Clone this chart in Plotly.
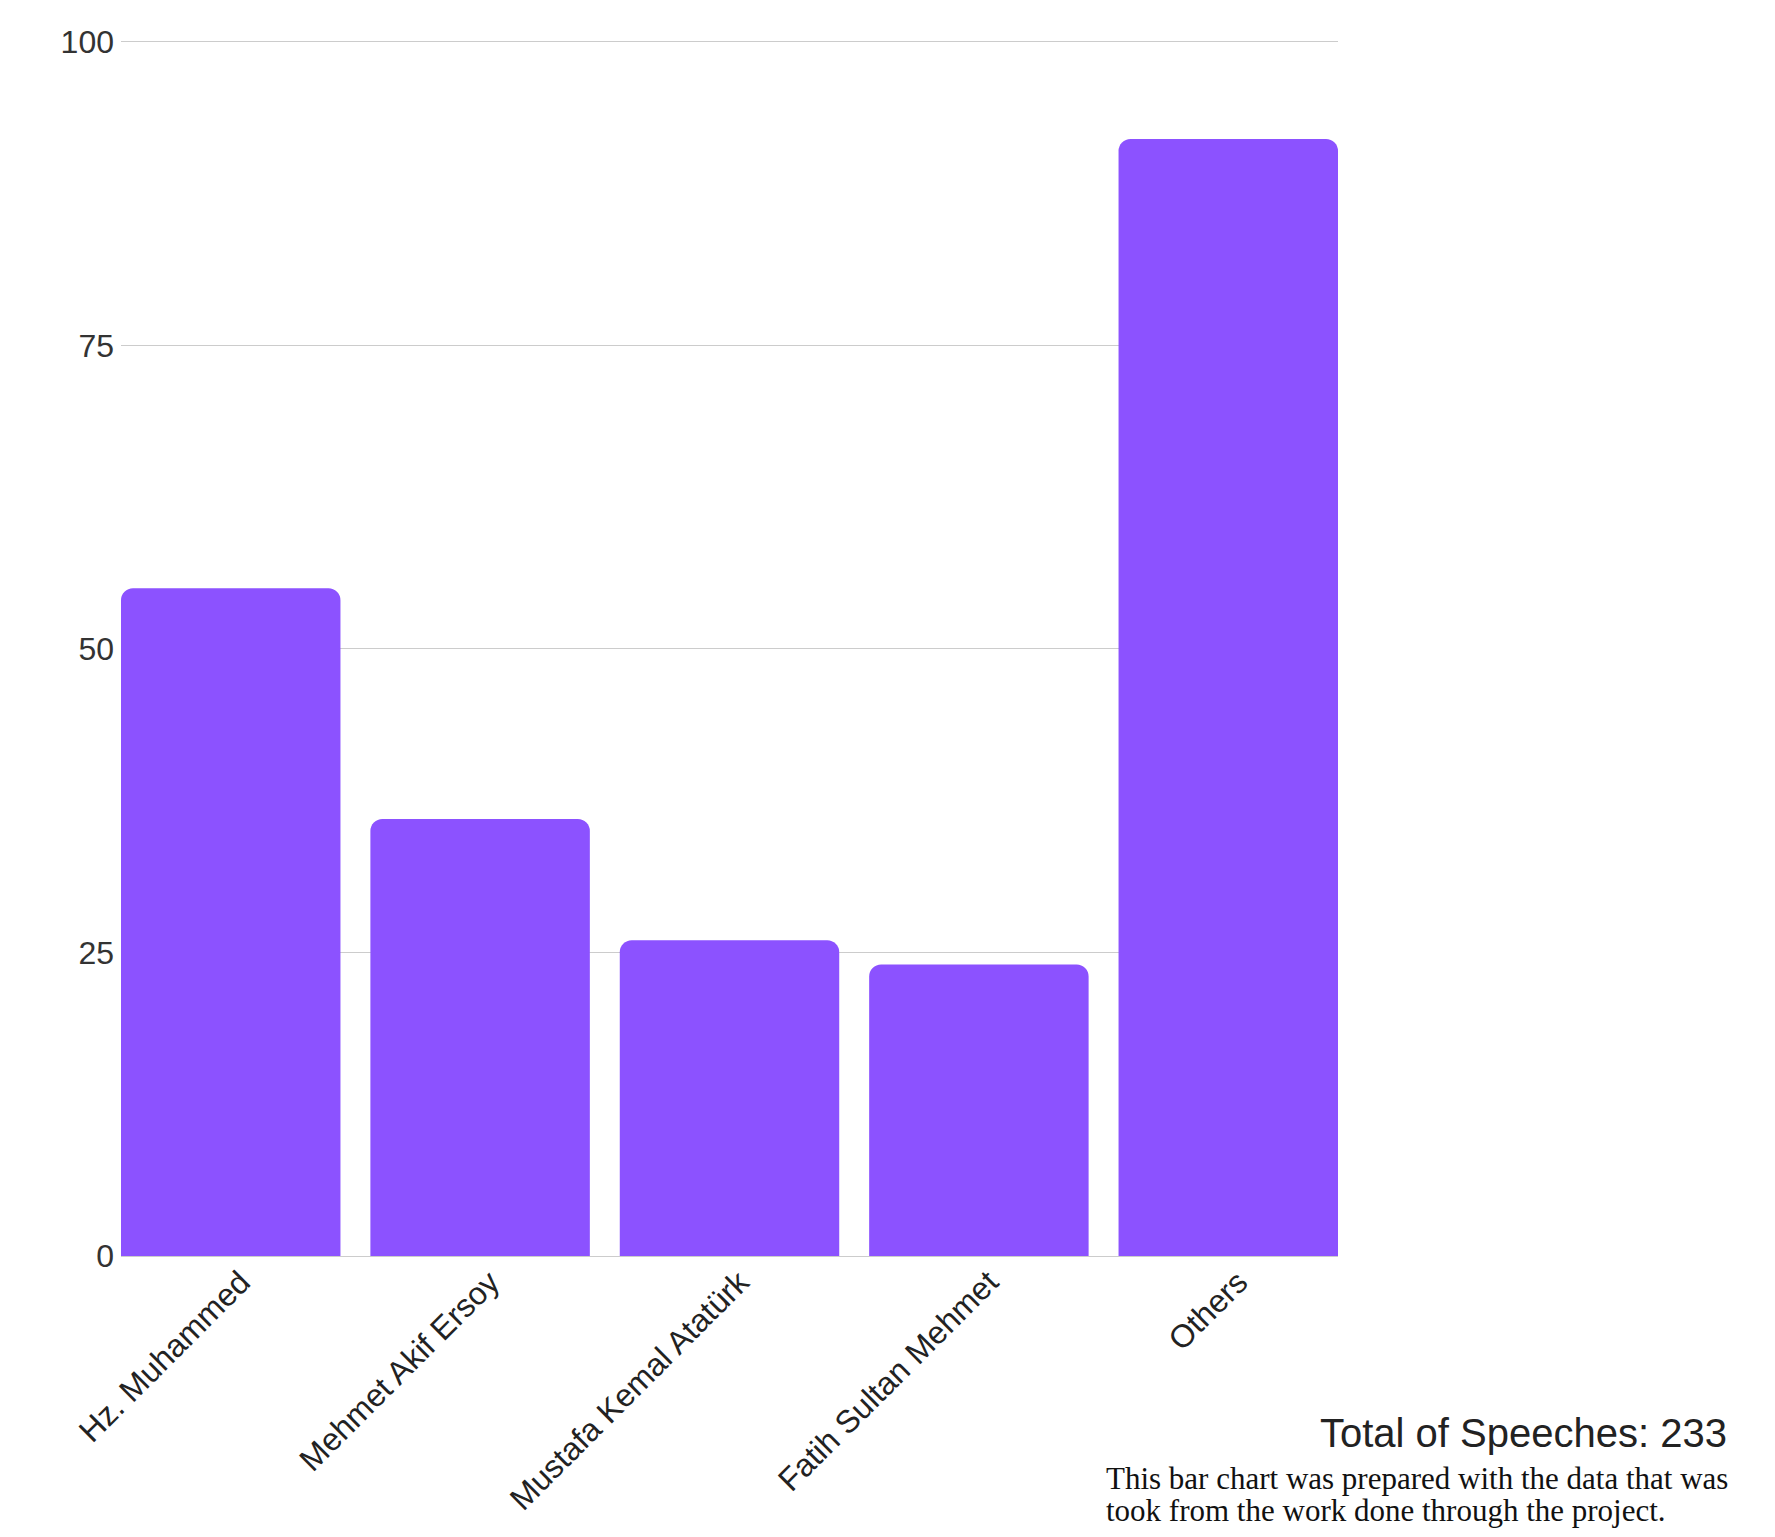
import plotly.graph_objects as go

categories = ["Hz. Muhammed", "Mehmet Akif Ersoy", "Mustafa Kemal Atatürk", "Fatih Sultan Mehmet", "Others"]
speeches = [55, 36, 26, 24, 92]
y_ticks = [0, 25, 50, 75, 100]
total_label = "Total of Speeches: 233"
caption_lines = ["This bar chart was prepared with the data that was", "took from the work done through the project."]

BAR_COLOR = "#8c52ff"

fig = go.Figure(
    go.Bar(
        x=categories,
        y=speeches,
        marker=dict(color=BAR_COLOR, line=dict(width=0)),
        width=0.88,
    )
)

caption_y = [-0.1829, -0.2092]

annotations = [
    dict(
        text=total_label,
        xref="paper", yref="paper",
        x=1.3216, y=-0.1452,
        xanchor="right", yanchor="middle",
        showarrow=False,
        font=dict(family="Liberation Sans, Arial, sans-serif", size=40, color="#222222"),
    )
]
for line, yy in zip(caption_lines, caption_y):
    annotations.append(
        dict(
            text=line,
            xref="paper", yref="paper",
            x=0.8077, y=yy,
            xanchor="left", yanchor="middle", align="left",
            showarrow=False,
            font=dict(family="Liberation Serif, Times New Roman, serif", size=31, color="#111111"),
        )
    )

fig.update_layout(
    width=1759,
    height=1521,
    margin=dict(l=113, r=429, t=32, b=270),
    paper_bgcolor="white",
    plot_bgcolor="white",
    barcornerradius=12,
    showlegend=False,
    font=dict(family="Liberation Sans, Arial, sans-serif", color="#333333"),
    xaxis=dict(
        range=[-0.44, 4.44],
        tickangle=-45,
        tickfont=dict(size=32, color="#222222"),
        ticklabelshift=10,
        showgrid=False,
        showline=False,
        ticks="",
    ),
    yaxis=dict(
        range=[0, 100.15],
        tickvals=y_ticks,
        tickfont=dict(size=32, color="#333333"),
        ticklabelstandoff=6,
        showgrid=True,
        gridcolor="#cccccc",
        gridwidth=1,
        zeroline=True,
        zerolinecolor="#cccccc",
        zerolinewidth=1,
        showline=False,
        ticks="",
    ),
    annotations=annotations,
)

fig.write_html("out.html")
